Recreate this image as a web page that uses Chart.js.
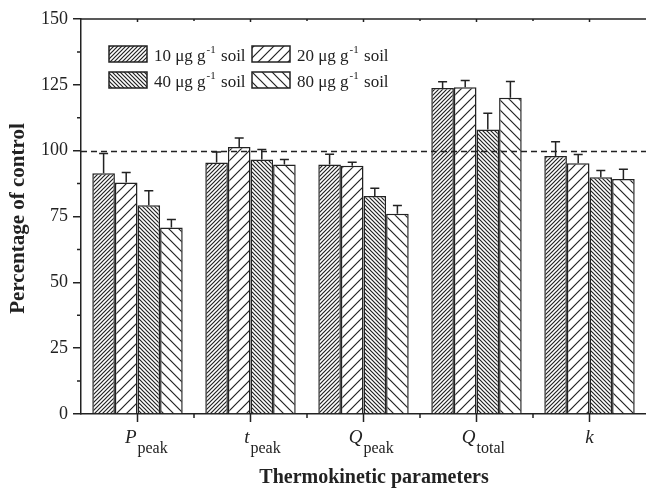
<!DOCTYPE html>
<html>
<head>
<meta charset="utf-8">
<script src="https://cdn.jsdelivr.net/npm/chart.js@4"></script>
<style>
  body { margin: 0; background: #fff; }
  #wrap { width: 646px; height: 488px; }
</style>
</head>
<body>
<div id="wrap"><canvas id="chart" width="646" height="488"></canvas></div>
<script>
// categories (main symbol + subscript)
const catMain = ['P', 't', 'Q', 'Q', 'k'];
const catSub = ['peak', 'peak', 'peak', 'total', ''];

// doses (μg g-1 soil)
const doses = [10, 20, 40, 80];

// percentage of control
const val10 = [91.4, 95.5, 94.7, 123.8, 98.0];
const val20 = [87.9, 101.4, 94.3, 124.1, 95.2];
const val40 = [79.3, 96.6, 82.8, 108.0, 89.9];
const val80 = [70.8, 94.7, 76.0, 120.1, 89.2];

// error bars (upper)
const err10 = [7.5, 4.0, 3.9, 2.4, 5.4];
const err20 = [3.8, 3.4, 1.3, 2.5, 3.3];
const err40 = [5.5, 3.8, 2.9, 6.2, 2.6];
const err80 = [3.1, 1.9, 3.2, 6.2, 3.7];

const yTicks = [0, 25, 50, 75, 100, 125, 150];
const refLine = 100;

const serif = '"Liberation Serif", "Times New Roman", serif';
const ink = '#222';

const canvas = document.getElementById('chart');
const ctx = canvas.getContext('2d');

function hatch(s, dir, lw) {
    const c = document.createElement('canvas');
    c.width = s; c.height = s;
    const g = c.getContext('2d');
    g.fillStyle = '#fff';
    g.fillRect(0, 0, s, s);
    g.strokeStyle = ink;
    g.lineWidth = lw;
    g.beginPath();
    if (dir > 0) {
        g.moveTo(-1, s + 1); g.lineTo(s + 1, -1);
        g.moveTo(-1, 1); g.lineTo(1, -1);
        g.moveTo(s - 1, s + 1); g.lineTo(s + 1, s - 1);
    } else {
        g.moveTo(-1, -1); g.lineTo(s + 1, s + 1);
        g.moveTo(s - 1, -1); g.lineTo(s + 1, 1);
        g.moveTo(-1, s - 1); g.lineTo(1, s + 1);
    }
    g.stroke();
    return ctx.createPattern(c, 'repeat');
}

const patterns = [hatch(4, 1, 1.2), hatch(10, 1, 1.2), hatch(4, -1, 1.2), hatch(10, -1, 1.2)];
const values = [val10, val20, val40, val80];
const errors = [err10, err20, err40, err80];

const datasets = doses.map((d, i) => ({
    label: d + ' μg g-1 soil',
    data: values[i],
    backgroundColor: patterns[i],
    borderColor: ink,
    borderWidth: 1.5,
    borderSkipped: 'bottom',
    categoryPercentage: 0.8,
    barPercentage: 1.0
}));

const extras = {
    id: 'extras',
    afterDatasetsDraw(chart) {
        const c = chart.ctx;
        const y = chart.scales.y;
        const area = chart.chartArea;

        // error bars
        c.save();
        c.strokeStyle = ink;
        c.lineWidth = 1.5;
        errors.forEach((errs, i) => {
            chart.getDatasetMeta(i).data.forEach((bar, j) => {
                const y0 = y.getPixelForValue(values[i][j]);
                const y1 = y.getPixelForValue(values[i][j] + errs[j]);
                c.beginPath();
                c.moveTo(bar.x, y0);
                c.lineTo(bar.x, y1);
                c.moveTo(bar.x - 4.5, y1);
                c.lineTo(bar.x + 4.5, y1);
                c.stroke();
            });
        });

        // reference line at 100
        c.setLineDash([6, 4]);
        c.lineWidth = 1.3;
        const yr = Math.round(y.getPixelForValue(refLine)) + 0.5;
        c.beginPath();
        c.moveTo(area.left, yr);
        c.lineTo(area.right, yr);
        c.stroke();
        c.restore();
    },
    afterDraw(chart) {
        const c = chart.ctx;
        const x = chart.scales.x, y = chart.scales.y;
        const area = chart.chartArea;
        c.save();
        c.strokeStyle = ink;
        c.fillStyle = ink;
        c.lineWidth = 1.5;

        // top frame
        c.beginPath();
        c.moveTo(area.left, area.top);
        c.lineTo(area.right, area.top);
        c.stroke();

        // y minor ticks
        c.beginPath();
        for (let k = 0; k < yTicks.length - 1; k++) {
            const py = y.getPixelForValue((yTicks[k] + yTicks[k + 1]) / 2);
            c.moveTo(area.left - 4, py);
            c.lineTo(area.left, py);
        }
        c.stroke();

        // x ticks: major at categories, minor at boundaries
        const n = catMain.length;
        const step = (area.right - area.left) / n;
        c.beginPath();
        for (let i = 0; i < n; i++) {
            const px = x.getPixelForValue(i);
            c.moveTo(px, area.bottom);
            c.lineTo(px, area.bottom + 8);
            c.moveTo(px, area.top);
            c.lineTo(px, area.top + 3);
            const bx = px - step / 2;
            if (i > 0) {
                c.moveTo(bx, area.bottom);
                c.lineTo(bx, area.bottom + 4);
                c.moveTo(bx, area.top);
                c.lineTo(bx, area.top + 2);
            }
        }
        c.stroke();

        // x labels with subscripts
        for (let i = 0; i < n; i++) {
            const px = x.getPixelForValue(i);
            c.font = 'italic 19px ' + serif;
            c.textBaseline = 'alphabetic';
            if (catSub[i]) {
                c.textAlign = 'right';
                c.fillText(catMain[i], px - 1, 443);
                c.font = '16px ' + serif;
                c.textAlign = 'left';
                c.fillText(catSub[i], px, 453);
            } else {
                c.textAlign = 'center';
                c.fillText(catMain[i], px, 443);
            }
        }

        // axis titles
        c.font = 'bold 20px ' + serif;
        c.textAlign = 'center';
        c.fillText('Thermokinetic parameters', 374, 483);
        c.save();
        c.font = 'bold 21px ' + serif;
        c.translate(24, (area.top + area.bottom) / 2 + 2);
        c.rotate(-Math.PI / 2);
        c.fillText('Percentage of control', 0, 0);
        c.restore();

        // legend
        const colX = [109, 252];
        const rowY = [46, 72];
        doses.forEach((d, i) => {
            const lx = colX[i % 2];
            const ly = rowY[Math.floor(i / 2)];
            c.fillStyle = patterns[i];
            c.fillRect(lx, ly, 38, 16);
            c.lineWidth = 1.5;
            c.strokeRect(lx, ly, 38, 16);
            c.fillStyle = ink;
            c.textAlign = 'left';
            let tx = lx + 45;
            const base = ly + 15;
            c.font = '17px ' + serif;
            const part1 = d + ' μg g';
            c.fillText(part1, tx, base);
            tx += c.measureText(part1).width + 1;
            c.font = '11px ' + serif;
            c.fillText('-1', tx, base - 8);
            tx += c.measureText('-1').width + 1;
            c.font = '17px ' + serif;
            c.fillText(' soil', tx, base);
        });
        c.restore();
    }
};

new Chart(ctx, {
    type: 'bar',
    data: {
        labels: catMain.map((m, i) => m + catSub[i]),
        datasets: datasets
    },
    options: {
        responsive: false,
        animation: false,
        layout: { padding: { top: 19, right: 0, left: 0, bottom: 0 } },
        plugins: {
            legend: { display: false },
            tooltip: { enabled: false }
        },
        scales: {
            x: {
                grid: { display: false },
                ticks: { display: false },
                border: { display: true, color: ink, width: 1.5 },
                afterFit(scale) { scale.height = 74; }
            },
            y: {
                min: 0,
                max: 150,
                afterBuildTicks(scale) { scale.ticks = yTicks.map(v => ({ value: v })); },
                grid: {
                    drawOnChartArea: false,
                    drawTicks: true,
                    tickLength: 8,
                    color: ink,
                    lineWidth: 1.5
                },
                border: { display: true, color: ink, width: 1.5 },
                ticks: {
                    color: ink,
                    padding: 5,
                    font: { family: serif, size: 18 }
                },
                afterFit(scale) { scale.width = 81; }
            }
        }
    },
    plugins: [extras]
});
</script>
</body>
</html>
